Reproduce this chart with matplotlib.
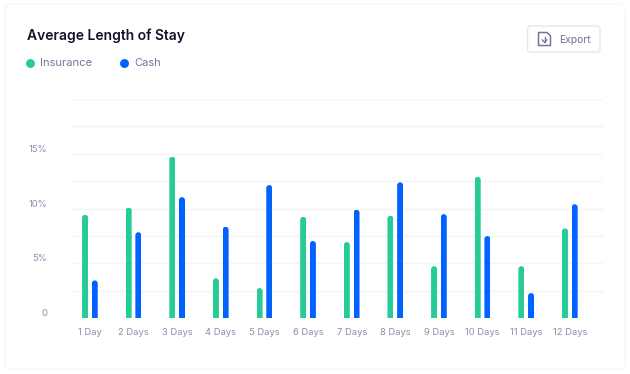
import matplotlib
matplotlib.use('Agg')
import matplotlib.pyplot as plt
from matplotlib.lines import Line2D
from matplotlib.patches import FancyBboxPatch, Polygon

# --- data ---
categories = ['1 Day', '2 Days', '3 Days', '4 Days', '5 Days', '6 Days',
              '7 Days', '8 Days', '9 Days', '10 Days', '11 Days', '12 Days']
insurance = [9.45, 10.1, 14.75, 3.65, 2.75, 9.25, 6.95, 9.35, 4.75, 12.9, 4.75, 8.2]
cash = [3.45, 7.85, 11.05, 8.35, 12.15, 7.05, 9.9, 12.4, 9.5, 7.5, 2.3, 10.4]
grid_ticks = [0, 2.5, 5, 7.5, 10, 12.5, 15, 17.5, 20]
ytick_labels = ['0', '', '5%', '', '10%', '', '15%', '', '']

GREEN = '#26CC96'
BLUE = '#0062FF'
GREY = '#8C8EAB'
FONT = 'Inter'
W, H = 630, 374

plt.rcParams['font.family'] = FONT
fig = plt.figure(figsize=(W / 100, H / 100), dpi=100, facecolor='white')

# layer in pixel coords for the card and the button
bg = fig.add_axes([0, 0, 1, 1])
bg.set_xlim(0, W)
bg.set_ylim(H, 0)
bg.axis('off')
bg.add_patch(FancyBboxPatch((5, 4), 620, 365, boxstyle='round,pad=0,rounding_size=6',
                            fc='white', ec='#F5F6F8', lw=1))
bg.text(27, 35.5, 'Average Length of Stay', fontsize=10, fontweight='semibold',
        color='#11142D', va='center')

# export button
bg.add_patch(FancyBboxPatch((527.5, 26), 72.5, 26, boxstyle='round,pad=0,rounding_size=3',
                            fc='white', ec='#E3E8F1', lw=1))
bg.add_patch(Polygon([(538.5, 32.5), (547, 32.5), (550.5, 36), (550.5, 45.5), (538.5, 45.5)],
                     closed=True, fc='none', ec='#73759A', lw=1.1, joinstyle='round'))
bg.plot([544.5, 544.5], [36.5, 42], color='#73759A', lw=1)
bg.plot([542.3, 544.5, 546.7], [40, 42.3, 40], color='#73759A', lw=1)
bg.text(559.5, 39.5, 'Export', fontsize=7.5, color='#6F7190', va='center')

# main chart, axes box in pixels
left, right, top, bottom = 70, 602.5, 99, 318.3
ax = fig.add_axes([left / W, 1 - bottom / H, (right - left) / W, (bottom - top) / H])
ax.patch.set_alpha(0)

x = list(range(len(categories)))
bar_w = 0.1375
offset = 0.111
ax.set_xlim(-0.456, 11.749)
ax.set_ylim(0, 20)
ax.set_axisbelow(True)

bars1 = ax.bar([i - offset for i in x], insurance, bar_w, color=GREEN)
bars2 = ax.bar([i + offset for i in x], cash, bar_w, color=BLUE)

# round the top of the bars
px_x = (right - left) / (ax.get_xlim()[1] - ax.get_xlim()[0])
px_y = (bottom - top) / 20
for b in list(bars1) + list(bars2):
    clip = FancyBboxPatch((b.get_x(), -1), b.get_width(), b.get_height() + 1,
                          boxstyle='round,pad=0,rounding_size=%f' % (bar_w / 2),
                          mutation_aspect=px_x / px_y, transform=ax.transData)
    b.set_clip_path(clip)

ax.set_yticks(grid_ticks)
ax.set_yticklabels(ytick_labels, fontsize=6.8, color=GREY)
for lab in ax.get_yticklabels():
    lab.set_verticalalignment('bottom')
ax.set_xticks(x)
ax.set_xticklabels(categories, fontsize=6.8, color=GREY)
ax.tick_params(axis='y', length=0, pad=16.2)
ax.tick_params(axis='x', length=0, pad=7)
ax.grid(axis='y', color='#F3F4F6', linewidth=1)
ax.grid(axis='x', visible=False)
for s in ax.spines.values():
    s.set_visible(False)

# legend
handles = [Line2D([], [], ls='', marker='o', ms=5.4, color=GREEN),
           Line2D([], [], ls='', marker='o', ms=5.4, color=BLUE)]
leg = ax.legend(handles, ['Insurance', 'Cash'], ncol=2, frameon=False, fontsize=8,
                loc='center left', bbox_to_anchor=(23 / W, 1 - 63.5 / H),
                bbox_transform=fig.transFigure, borderpad=0, borderaxespad=0,
                handlelength=1.2, handletextpad=0.3, columnspacing=2.3)
for t in leg.get_texts():
    t.set_color('#74769A')

fig.savefig('out.png', dpi=100, facecolor='white')
